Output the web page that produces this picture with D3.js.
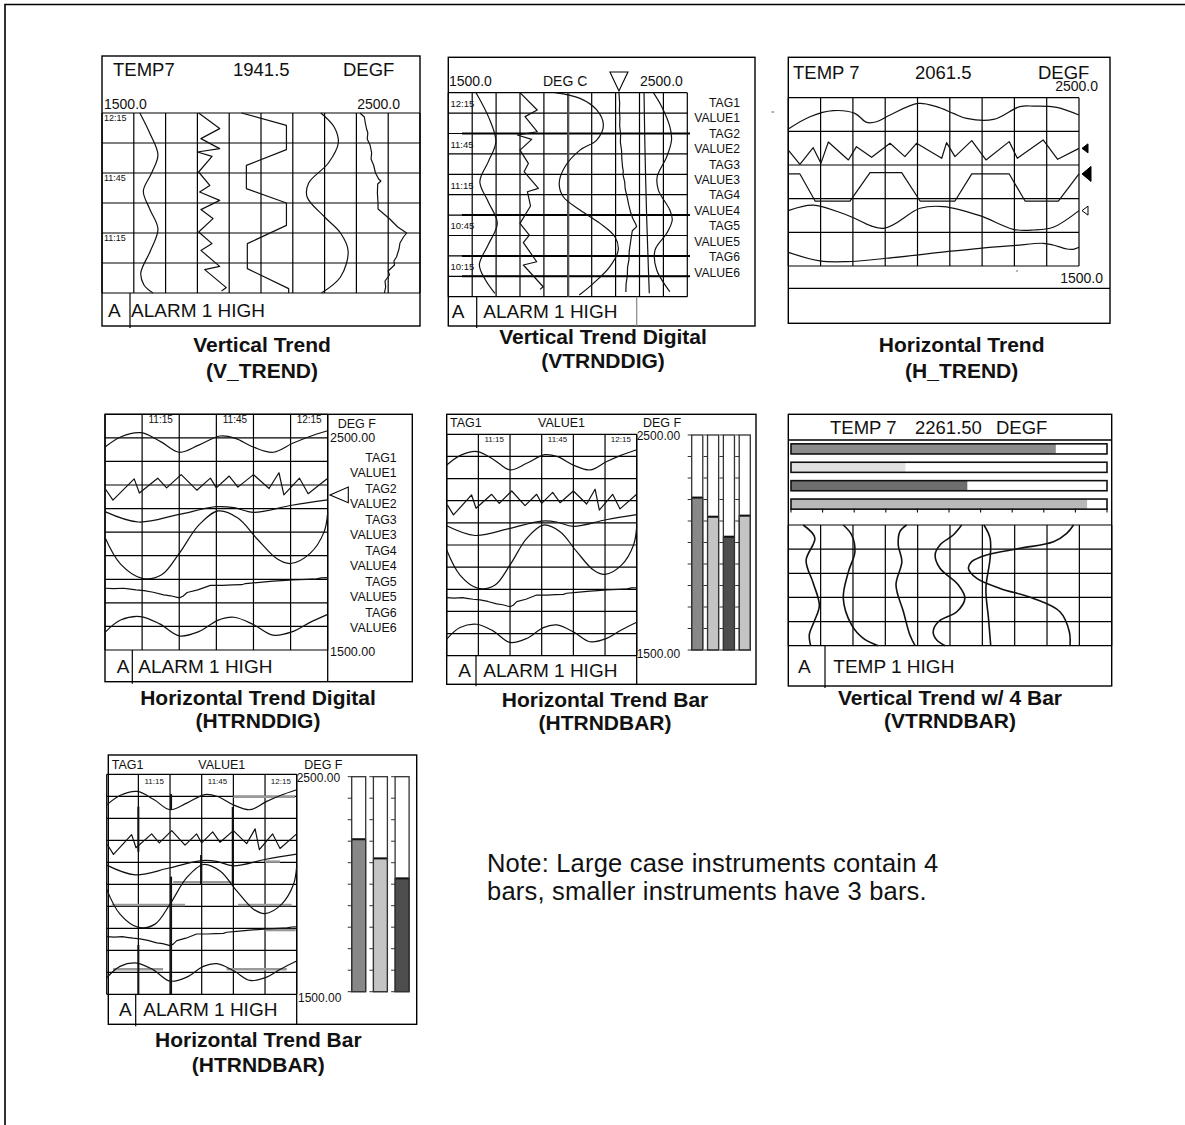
<!DOCTYPE html>
<html>
<head>
<meta charset="utf-8">
<script src="https://d3js.org/d3.v7.min.js"></script>
<style>
  body { margin: 0; background: #fff; }
  svg { display: block; }
  text { font-family: "Liberation Sans", Arial, sans-serif; fill: #111; }
</style>
</head>
<body>
<script>
// ---------- data ----------
var valueRange = [1500, 2500];
var tagLabels = ['TAG1', 'VALUE1', 'TAG2', 'VALUE2', 'TAG3', 'VALUE3', 'TAG4', 'VALUE4', 'TAG5', 'VALUE5', 'TAG6', 'VALUE6'];

// V_TREND : [minutes before 12:15, degF]
var vtTicks = [0, 30, 60], vtTickLabels = ['12:15', '11:45', '11:15'];
var vt1 = [[0,1619],[10,1650],[21,1676],[30,1656],[39,1630],[48,1650],[58,1676],[69,1652],[80,1622],[86,1632],[90,1660]];
var vt2 = [[0,1804],[7.8,1870],[12.8,1811],[17.8,1870],[19.5,1800],[21.7,1846],[29.5,1804],[36.2,1839],[39.5,1807],[43.7,1870],[48.3,1811],[52.8,1849],[59.5,1804],[65.3,1846],[68.7,1811],[76.7,1870],[78.3,1823],[87.3,1891],[89,1876]];
var vt3 = [[0,1939],[6.2,2080],[18.3,2080],[26.2,1954],[37.8,1954],[45,2080],[56.2,2080],[65.3,1957],[77.8,1957],[87.8,2087],[90,2087]];
var vt4 = [[0,2188],[7,2230],[15,2243],[25,2212],[35,2150],[42,2145],[52,2200],[60,2250],[69,2274],[82,2250],[90,2190]];
var vt5 = [[0,2311],[2,2325],[5,2328],[8,2332],[10,2336],[13,2334],[16,2343],[20,2348],[23,2346],[26,2354],[30,2360],[33,2370],[34,2377],[35.5,2367],[40,2366],[45,2368],[48,2368],[53,2405],[57,2430],[60,2458],[62,2448],[65,2437],[68,2434],[72,2426],[74,2418],[76,2420],[79,2400],[81,2404],[84,2390],[87,2392],[90,2388]];
var vtKinds = ['smooth', 'sharp', 'sharp', 'smooth', 'sharp'];

// VTRNDDIG : [clock minute, degC]
var vdTicks = [735, 705, 675, 645, 615], vdTickLabels = ['12:15', '11:45', '11:15', '10:45', '10:15'];
var vd1 = [[742.5,1616],[724,1670],[706.5,1699],[692,1668],[677,1632],[662,1668],[646.5,1705],[631,1668],[616,1630],[605,1655],[595,1695]];
var vd2 = [[742.5,1800],[729.8,1872],[724.9,1821],[713.8,1872],[711.4,1789],[708.2,1849],[700.3,1800],[690.5,1835],[684.4,1817],[672.2,1877],[669.7,1831],[659.2,1844],[646.4,1800],[637.8,1839],[632.2,1814],[618.2,1870],[615.8,1814],[599.8,1897],[597.9,1884]];
var vd3 = [[742.5,1946],[738.3,2051],[729.8,2121],[718.7,2149],[707.7,2121],[700.3,2051],[688.1,1988],[675.8,1964],[666,1981],[656.2,2051],[646.4,2135],[636.6,2197],[626.8,2211],[614.6,2176],[602.3,2107],[593.7,2048]];
var vd4 = [[742.5,2214],[735,2217],[730,2216],[724,2218],[718,2217],[712,2221],[706,2220],[700,2225],[694,2226],[688,2229],[685,2232],[682,2231],[677,2238],[672,2240],[666,2248],[660,2255],[655,2262],[650,2272],[646,2284],[644,2288],[641,2270],[638,2267],[632,2262],[626,2257],[620,2256],[614,2250],[608,2249],[602,2244],[596,2243]];
var vd5 = [[742.5,2319],[700,2323],[651,2330],[614,2337],[595,2341]];
var vd6 = [[742.5,2358],[732.2,2393],[717.5,2427],[707.7,2434],[695.4,2414],[680.7,2374],[670.9,2379],[656.2,2427],[648.9,2437],[639.1,2414],[626.8,2365],[612.1,2372],[596.2,2427]];
var vdKinds = ['smooth', 'sharp', 'smooth', 'sharp', 'smooth', 'smooth'];

// H_TREND : [minute, degF]
var ht1 = [[0,2314],[6.7,2387],[13.9,2423],[20.6,2407],[24.3,2353],[27.3,2357],[31.5,2397],[40.2,2466],[45.9,2447],[51.1,2407],[55.2,2377],[63.5,2371],[71.7,2447],[75.9,2450],[83.1,2443],[90,2397]];
var ht2 = [[0,2189],[3.6,2104],[7.7,2203],[10.1,2110],[12.4,2237],[18.6,2130],[21.1,2209],[25.8,2146],[31.5,2229],[36.1,2150],[39.7,2229],[47.5,2140],[49,2233],[51.6,2150],[56.8,2245],[61.2,2130],[68.4,2239],[70.9,2140],[78.9,2249],[83.4,2134],[90,2199]];
var ht3 = [[0,2047],[3.6,2047],[8.3,1886],[19.1,1886],[25.3,2055],[35.1,2055],[40.8,1886],[51.6,1886],[56.8,2047],[68.4,2047],[73.3,1886],[83.6,1886],[90,2047]];
var ht4 = [[0,1829],[7.7,1862],[18.1,1803],[29.4,1724],[40.8,1843],[48,1853],[59.3,1799],[69.7,1718],[75.9,1714],[82,1730],[90,1829]];
var ht5 = [[0,1581],[9.8,1530],[18.1,1526],[30.4,1546],[49,1585],[59.3,1605],[69.7,1621],[78.9,1635],[82,1625],[86.2,1601],[88.2,1599],[90,1611]];
var htKinds = ['smooth', 'sharp', 'sharp', 'smooth', 'smooth'];

// HTRNDDIG / HTRNDBAR : [clock minute, degF]
var hsTicks = [675, 705, 735], hsTickLabels = ['11:15', '11:45', '12:15'];
var hs1 = [[652.5,2361],[659,2405],[667,2422],[675,2384],[682.5,2339],[690.4,2369],[699,2408],[705,2399],[712.5,2361],[720.4,2339],[728.3,2377],[735,2405],[742.5,2430]];
var hs2 = [[652.8,2181],[655.7,2136],[664.3,2226],[666.4,2166],[673.8,2229],[677.4,2188],[683.3,2244],[689.6,2178],[695.1,2229],[697.5,2188],[702.7,2238],[706.2,2191],[712.5,2244],[718.8,2185],[722.8,2252],[724.8,2158],[731.1,2229],[734.6,2163],[742.5,2229]];
var hs3 = [[652.5,2087],[666,2043],[682,2074],[697.5,2108],[704.6,2104],[712.5,2084],[728,2114],[742.5,2137]];
var hs4 = [[652.5,1977],[658.8,1864],[667.5,1804],[675.4,1819],[682.5,1910],[690.4,2030],[698.3,2090],[706.2,2060],[714.1,1970],[722,1887],[727.5,1867],[735.4,1910],[741,2000],[742.5,2083]];
var hs5 = [[652.5,1762],[656,1760],[660,1762],[662,1759],[665,1755],[668.3,1752],[672,1745],[676.2,1734],[679,1730],[682.5,1721],[684,1728],[685.7,1744],[690,1755],[695.1,1774],[700,1774],[704,1776],[707.8,1777],[709.3,1782],[714,1786],[720.4,1792],[724,1794],[728.3,1797],[734,1800],[738,1802],[740,1806],[742.5,1807]];
var hs6 = [[652.5,1575],[658.8,1627],[666.7,1642],[674.6,1611],[682.5,1560],[690.4,1578],[698.3,1627],[704.6,1639],[712.5,1608],[720.4,1563],[728.3,1578],[735,1615],[742.5,1651]];
var hsKinds = ['smooth', 'sharp', 'smooth', 'smooth', 'sharp', 'smooth'];
var hdPointer = [2158];
// leftover screen traces in the small HTRNDBAR copy: [minute, from, to]
var p7GhostV = [[667.5,2353,2148],[667.5,1724,1500],[683,2410,2338],[683,2035,1500],[697.2,2133,1997],[712.2,2351,1997]];
// [value, from minute, to minute]
var p7GhostH = [[2398,712.5,741.7],[2103,727.5,734.6],[2009,684,711.7],[1906,654.9,689.6],[1906,714.7,740.1],[1792,727.5,742],[1614,655.5,679.2],[1614,709.3,737.8]];

// VTRNDBAR : [minute, degF]
var vb1 = [[0,1546],[8,1582],[22,1555],[36,1577],[50,1596],[60,1580],[68,1565],[75,1569]];
var vb2 = [[0,1670],[6.2,1696],[16.6,1706],[29,1686],[45.6,1670],[62.2,1696],[70.4,1732],[75,1778]];
var vb3 = [[0,1866],[4.1,1845],[12.4,1840],[22.8,1851],[37.3,1833],[53.9,1856],[68.4,1876],[75,1892]];
var vb4 = [[0,2036],[6.2,2010],[12.4,1969],[18.6,1954],[26.9,1969],[37.3,2026],[45.6,2046],[53.9,2021],[60.1,1964],[66.3,1948],[71.5,1959],[75,1985]];
var vb5 = [[0,2105],[8.3,2124],[20.7,2124],[39.4,2111],[58,2119],[75,2126]];
var vb6 = [[0,2382],[5.2,2361],[10.4,2320],[14.5,2217],[18.6,2113],[22.8,2067],[26.9,2057],[33.2,2083],[39.4,2155],[45.6,2258],[53.9,2340],[66.3,2369],[75,2371]];
var vbKinds = ['smooth', 'smooth', 'smooth', 'smooth', 'smooth', 'smooth'];

// bar readings
var bar4Values = [2209, 2120, 2027, 2125];
var bar4Colors = ['#888888', '#c4c4c4', '#4e4e4e', '#c4c4c4'];
var bar3Values = [2209, 2120, 2027];
var bar3Colors = ['#888888', '#c4c4c4', '#4e4e4e'];
var hbarValues = [2338, 1862, 2058, 2437];
var hbarColors = ['#8c8c8c', '#e0e0e0', '#6e6e6e', '#b8b8b8'];

// ---------- drawing ----------
var fmt1 = d3.format('.1f'), fmt2 = d3.format('.2f');
var svg = d3.select('body').append('svg').attr('width', 1185).attr('height', 1125);

svg.append('path').attr('d', 'M5,1125V4.5H1185').attr('fill', 'none').attr('stroke', '#000').attr('stroke-width', 1.6);

function label(g, x, y, s, size, anchor, weight) {
	return g.append('text').attr('x', x).attr('y', y).attr('font-size', size)
		.attr('text-anchor', anchor || 'start').attr('font-weight', weight || 'normal').text(s);
}
function seg(g, x0, y0, x1, y1, w, c) {
	return g.append('line').attr('x1', x0).attr('y1', y0).attr('x2', x1).attr('y2', y1)
		.attr('stroke', c || '#000').attr('stroke-width', w || 1.2);
}
function box(g, x0, y0, x1, y1) {
	g.append('rect').attr('x', x0).attr('y', y0).attr('width', x1 - x0).attr('height', y1 - y0)
		.attr('fill', 'none').attr('stroke', '#000').attr('stroke-width', 1.4);
}
function grid(g, x0, y0, x1, y1, nc, nr) {
	var gx = d3.scaleLinear().domain([0, nc]).range([x0, x1]);
	var gy = d3.scaleLinear().domain([0, nr]).range([y0, y1]);
	g.selectAll(null).data(d3.range(nc + 1)).enter().append('line')
		.attr('x1', gx).attr('x2', gx).attr('y1', y0).attr('y2', y1)
		.attr('stroke', '#000').attr('stroke-width', 1.2);
	g.selectAll(null).data(d3.range(nr + 1)).enter().append('line')
		.attr('y1', gy).attr('y2', gy).attr('x1', x0).attr('x2', x1)
		.attr('stroke', '#000').attr('stroke-width', 1.2);
}
function traces(g, series, kinds, tScale, vScale, vertical, sw) {
	series.forEach(function (s, i) {
		var line = d3.line()
			.x(function (d) { return vertical ? vScale(d[1]) : tScale(d[0]); })
			.y(function (d) { return vertical ? tScale(d[0]) : vScale(d[1]); })
			.curve(kinds[i] === 'smooth' ? d3.curveCatmullRom.alpha(0.5) : d3.curveLinear);
		g.append('path').attr('d', line(s)).attr('fill', 'none')
			.attr('stroke', '#111').attr('stroke-width', sw || 1.2).attr('stroke-linejoin', 'round');
	});
}
function title(g, cx, y1, y2, a, b) {
	label(g, cx, y1, a, 21, 'middle', 'bold');
	label(g, cx, y2, b, 21, 'middle', 'bold');
}
function alarm(g, y0, y1, aX, divX, txtX, msg) {
	var base = y0 + (y1 - y0) / 2 + 7;
	label(g, aX, base, 'A', 19);
	seg(g, divX, y0, divX, y1 + 2, 1.2);
	label(g, txtX, base, msg, 19);
}
function vBars(g, values, colors, x0, x1, yTop, yBot, pi) {
	var xb = d3.scaleBand().domain(d3.range(values.length)).range([x0, x1]).paddingInner(pi);
	var yb = d3.scaleLinear().domain(valueRange).range([yBot, yTop]);
	var ticks = d3.range(valueRange[0], valueRange[1] + 1, 100);
	values.forEach(function (v, i) {
		var x = xb(i), w = xb.bandwidth();
		g.append('rect').attr('x', x).attr('y', yb(v)).attr('width', w).attr('height', yBot - yb(v))
			.attr('fill', colors[i]).attr('stroke', '#222').attr('stroke-width', 1);
		seg(g, x, yb(v), x + w, yb(v), 2, '#111');
		g.append('rect').attr('x', x).attr('y', yTop).attr('width', w).attr('height', yBot - yTop)
			.attr('fill', 'none').attr('stroke', '#333').attr('stroke-width', 1.3);
		g.selectAll(null).data(ticks).enter().append('line')
			.attr('x1', x - 4).attr('x2', x).attr('y1', yb).attr('y2', yb)
			.attr('stroke', '#333').attr('stroke-width', 1);
	});
}

// ---- Panel 1 : V_TREND ----
(function () {
	var g = svg.append('g');
	var x0 = 102, x1 = 420, y0 = 113, y1 = 293;
	var t = d3.scaleLinear().domain([0, 90]).range([y0, y1]);
	var v = d3.scaleLinear().domain(valueRange).range([x0, x1]);
	box(g, 102, 56, 420, 326);
	label(g, 113, 76, 'TEMP7', 18.5);
	label(g, 233, 76, '1941.5', 18.5);
	label(g, 343, 76, 'DEGF', 18.5);
	label(g, 104, 109, fmt1(valueRange[0]), 14);
	label(g, 400, 109, fmt1(valueRange[1]), 14, 'end');
	grid(g, x0, y0, x1, y1, 10, 6);
	vtTicks.forEach(function (d, i) { label(g, 104, t(d) + 8, vtTickLabels[i], 9); });
	traces(g, [vt1, vt2, vt3, vt4, vt5], vtKinds, t, v, true);
	alarm(g, y1, 326, 108, 130, 131, 'ALARM 1 HIGH');
	title(g, 262, 352, 378, 'Vertical Trend', '(V_TREND)');
})();

// ---- Panel 2 : VTRNDDIG ----
(function () {
	var g = svg.append('g');
	var x0 = 448.3, x1 = 687.3, y0 = 92.7, y1 = 296.7;
	var t = d3.scaleLinear().domain([742.5, 592.5]).range([y0, y1]);
	var v = d3.scaleLinear().domain(valueRange).range([x0, x1]);
	box(g, 448.3, 57.3, 755, 326);
	label(g, 449, 86, fmt1(valueRange[0]), 14);
	label(g, 543, 86, 'DEG C', 14);
	label(g, 640, 86, fmt1(valueRange[1]), 14);
	grid(g, x0, y0, x1, y1, 10, 10);
	var gy = d3.scaleLinear().domain([0, 10]).range([y0, y1]);
	[2, 6, 8, 9].forEach(function (r) { seg(g, 462, gy(r), 690, gy(r), 2); });
	seg(g, 568.3, y0, 568.3, y1, 2, '#555');
	vdTicks.forEach(function (d, i) { label(g, 450.5, t(d) + 4, vdTickLabels[i], 9.5); });
	tagLabels.forEach(function (s, i) { label(g, 740, 106.7 + i * 15.45, s, 12.2, 'end'); });
	traces(g, [vd1, vd2, vd3, vd4, vd5, vd6], vdKinds, t, v, true);
	var px = v(vd4[0][1]);
	g.append('path').attr('d', 'M' + (px - 9) + ',72L' + (px + 9) + ',72L' + px + ',91Z')
		.attr('fill', '#fff').attr('stroke', '#000').attr('stroke-width', 1.1);
	alarm(g, y1, 326, 451.7, 476.7, 483.3, 'ALARM 1 HIGH');
	seg(g, 636.7, y1, 636.7, 326, 1.2, '#888');
	seg(g, 771.5, 112, 774, 112, 1, '#555');
	title(g, 603, 344, 368, 'Vertical Trend Digital', '(VTRNDDIG)');
})();

// ---- Panel 3 : H_TREND ----
(function () {
	var g = svg.append('g');
	var x0 = 788.3, x1 = 1079, y0 = 97.7, y1 = 266;
	var t = d3.scaleLinear().domain([0, 90]).range([x0, x1]);
	var v = d3.scaleLinear().domain(valueRange).range([y1, y0]);
	box(g, 788.3, 57.3, 1110, 323.3);
	label(g, 793, 79, 'TEMP 7', 18.5);
	label(g, 915, 79, '2061.5', 18.5);
	label(g, 1038, 79, 'DEGF', 18.5);
	label(g, 1098, 91, fmt1(valueRange[1]), 14, 'end');
	grid(g, x0, y0, x1, y1, 9, 5);
	traces(g, [ht1, ht2, ht3, ht4, ht5], htKinds, t, v, false);
	var ptr = [{ s: ht2, h: 4.5, w: 6, f: '#000' }, { s: ht3, h: 7.5, w: 9, f: '#000' }, { s: ht4, h: 4.5, w: 6, f: '#fff' }];
	ptr.forEach(function (p) {
		var y = v(p.s[p.s.length - 1][1]), x = 1082;
		g.append('path').attr('d', 'M' + x + ',' + y + 'L' + (x + p.w) + ',' + (y - p.h) + 'L' + (x + p.w) + ',' + (y + p.h) + 'Z')
			.attr('fill', p.f).attr('stroke', '#000').attr('stroke-width', 1);
	});
	label(g, 1103, 283, fmt1(valueRange[0]), 14, 'end');
	seg(g, 788.3, 288.3, 1110, 288.3, 1.3);
	seg(g, 1016, 271, 1018, 271, 1, '#666');
	title(g, 961.7, 352, 378, 'Horizontal Trend', '(H_TREND)');
})();

// ---- Panel 4 : HTRNDDIG ----
(function () {
	var g = svg.append('g');
	var x0 = 105, x1 = 327.7, y0 = 414.3, y1 = 650;
	var t = d3.scaleLinear().domain([652.5, 742.5]).range([x0, x1]);
	var v = d3.scaleLinear().domain(valueRange).range([y1, y0]);
	box(g, 105, 414.3, 412.3, 681.7);
	grid(g, x0, y0, x1, y1, 6, 10);
	seg(g, x1, y0, x1, 681.7, 1.3);
	hsTicks.forEach(function (d, i) { label(g, t(d), 423, hsTickLabels[i], 10, 'middle'); });
	label(g, 337.7, 428, 'DEG F', 12.5);
	label(g, 330, 441.7, fmt2(valueRange[1]), 12.5);
	label(g, 330, 655.7, fmt2(valueRange[0]), 12.5);
	tagLabels.forEach(function (s, i) { label(g, 396.7, 461.7 + i * 15.5, s, 12.4, 'end'); });
	traces(g, [hs1, hs2, hs3, hs4, hs5, hs6], hsKinds, t, v, false);
	var py = v(hdPointer[0]);
	g.append('path').attr('d', 'M330,' + py + 'L348.3,' + (py - 7.8) + 'L348.3,' + (py + 7.8) + 'Z')
		.attr('fill', '#fff').attr('stroke', '#000').attr('stroke-width', 1.1);
	alarm(g, y1, 681.7, 116.7, 132.3, 138.3, 'ALARM 1 HIGH');
	title(g, 258, 705, 728, 'Horizontal Trend Digital', '(HTRNDDIG)');
})();

// ---- Panel 5 : HTRNDBAR (4 bars) ----
(function () {
	var g = svg.append('g');
	var x0 = 446.7, x1 = 636.7, y0 = 434.3, y1 = 655.7;
	var t = d3.scaleLinear().domain([652.5, 742.5]).range([x0, x1]);
	var v = d3.scaleLinear().domain(valueRange).range([y1, y0]);
	box(g, 446.7, 414.3, 756, 684.3);
	label(g, 450, 426.7, 'TAG1', 12.5);
	label(g, 538, 426.7, 'VALUE1', 12.5);
	label(g, 643, 426.7, 'DEG F', 12.5);
	grid(g, x0, y0, x1, y1, 6, 10);
	seg(g, x1, y0, x1, 684.3, 1.3);
	hsTicks.forEach(function (d, i) { label(g, t(d), 442.3, hsTickLabels[i], 8, 'middle'); });
	label(g, 636.7, 440, fmt2(valueRange[1]), 12);
	label(g, 636.7, 658.3, fmt2(valueRange[0]), 12);
	traces(g, [hs1, hs2, hs3, hs4, hs5, hs6], hsKinds, t, v, false);
	vBars(g, bar4Values, bar4Colors, 691.7, 750.3, 435, 650, 0.3);
	alarm(g, y1, 684.3, 458.3, 476, 483.3, 'ALARM 1 HIGH');
	title(g, 605, 706.7, 730, 'Horizontal Trend Bar', '(HTRNDBAR)');
})();

// ---- Panel 6 : VTRNDBAR ----
(function () {
	var g = svg.append('g');
	var x0 = 788.3, x1 = 1111.7, y0 = 525, y1 = 645.7;
	var t = d3.scaleLinear().domain([0, 75]).range([y0, y1]);
	var v = d3.scaleLinear().domain(valueRange).range([x0, x1]);
	box(g, 788.3, 414.3, 1111.7, 686);
	label(g, 830, 434.3, 'TEMP 7', 18.5);
	label(g, 915, 434.3, '2261.50', 18.5);
	label(g, 996, 434.3, 'DEGF', 18.5);
	seg(g, 788.3, 440, 1111.7, 440, 1.3);
	var bx = d3.scaleLinear().domain(valueRange).range([791, 1107]);
	var by = d3.scaleBand().domain(d3.range(hbarValues.length)).range([442, 511]).paddingInner(0.45).paddingOuter(0.1);
	hbarValues.forEach(function (d, i) {
		g.append('rect').attr('x', bx(valueRange[0])).attr('y', by(i)).attr('width', bx(d) - bx(valueRange[0]))
			.attr('height', by.bandwidth()).attr('fill', hbarColors[i]);
		g.append('rect').attr('x', bx(valueRange[0])).attr('y', by(i)).attr('width', bx(valueRange[1]) - bx(valueRange[0]))
			.attr('height', by.bandwidth()).attr('fill', 'none').attr('stroke', '#111').attr('stroke-width', 1.6);
	});
	g.selectAll(null).data(d3.range(valueRange[0], valueRange[1] + 1, 100)).enter().append('line')
		.attr('x1', bx).attr('x2', bx).attr('y1', 508.5).attr('y2', 512.5)
		.attr('stroke', '#111').attr('stroke-width', 1.1);
	grid(g, x0, y0, x1, y1, 10, 5);
	traces(g, [vb1, vb2, vb3, vb4, vb5, vb6], vbKinds, t, v, true, 1.6);
	alarm(g, y1, 686, 798, 825, 833.3, 'TEMP 1 HIGH');
	title(g, 950, 705, 728.3, 'Vertical Trend w/ 4 Bar', '(VTRNDBAR)');
})();

// ---- Panel 7 : HTRNDBAR (3 bars) ----
(function () {
	var g = svg.append('g');
	var x0 = 106.7, x1 = 296.7, y0 = 774.3, y1 = 994.3;
	var t = d3.scaleLinear().domain([652.5, 742.5]).range([x0, x1]);
	var v = d3.scaleLinear().domain(valueRange).range([y1, y0]);
	box(g, 108.3, 755, 416.7, 1024.3);
	label(g, 111.7, 769, 'TAG1', 12.5);
	label(g, 198.3, 769, 'VALUE1', 12.5);
	label(g, 304.3, 769, 'DEG F', 12.5);
	grid(g, x0, y0, x1, y1, 6, 10);
	seg(g, x1, y0, x1, 1024.3, 1.3);
	p7GhostH.forEach(function (d) { seg(g, t(d[1]), v(d[0]), t(d[2]), v(d[0]), 2.5, '#999'); });
	p7GhostV.forEach(function (d) { seg(g, t(d[0]), v(d[1]), t(d[0]), v(d[2]), 2, '#111'); });
	hsTicks.forEach(function (d, i) { label(g, t(d), 784.3, hsTickLabels[i], 8, 'middle'); });
	label(g, 296.7, 781.7, fmt2(valueRange[1]), 12);
	label(g, 298, 1001.7, fmt2(valueRange[0]), 12);
	traces(g, [hs1, hs2, hs3, hs4, hs5, hs6], hsKinds, t, v, false);
	vBars(g, bar3Values, bar3Colors, 351.7, 409.1, 776.7, 991.7, 0.355);
	alarm(g, y1, 1024.3, 119, 135.7, 143.3, 'ALARM 1 HIGH');
	title(g, 258.3, 1046.7, 1071.7, 'Horizontal Trend Bar', '(HTRNDBAR)');
})();

// ---- note ----
var note = svg.append('g');
label(note, 487, 872, 'Note: Large case instruments contain 4', 25.5).attr('letter-spacing', 0.2);
label(note, 487, 900, 'bars, smaller instruments have 3 bars.', 25.5).attr('letter-spacing', 0.2);
</script>
</body>
</html>
